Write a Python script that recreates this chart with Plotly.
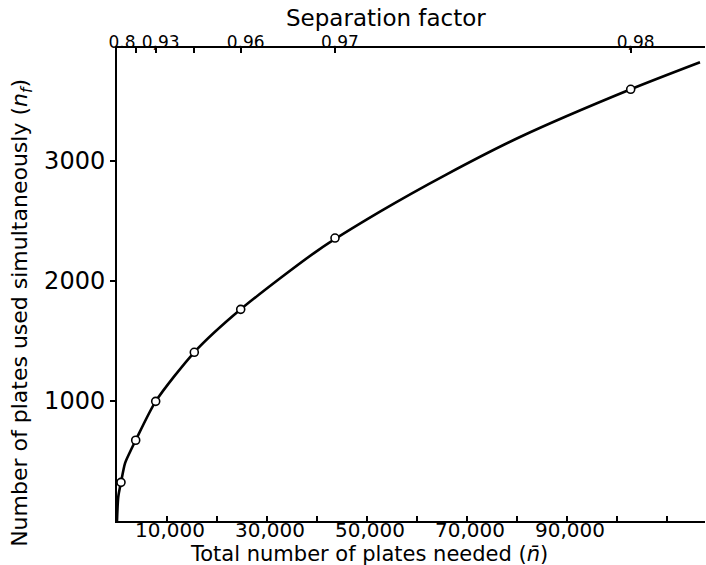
import plotly.graph_objects as go

# Smooth curve drawn through the results (total plates n̄ vs plates used simultaneously n_f)
curve_n = [0, 250, 800, 1600, 2600, 3740, 7740, 15460, 24740, 40260, 52600, 65940, 80600, 102740, 116600]
curve_nf = [0, 200, 322, 481, 575, 673, 997, 1406, 1764, 2258, 2578, 2889, 3200, 3598, 3823]

# Computed points (open circles)
point_n = [800, 3740, 7740, 15460, 24740, 43600, 102740]
point_nf = [322, 673, 997, 1406, 1764, 2358, 3598]

sep_tick_n = [0, 7740, 24740, 43600, 102740]
sep_tick_text = ["0.8", "0,93", "0.96", "0.97", "0,98"]
sep_minor_n = [3740, 15460]

# Bottom axis ticks
x_tick_vals = [10000, 30000, 50000, 70000, 90000]
x_tick_text = ["10,000", "30,000", "50,000", "70,000", "90,000"]
x_minor_vals = [20000, 40000, 60000, 80000, 100000, 110000]

# Left axis ticks
y_tick_vals = [1000, 2000, 3000]
y_tick_text = ["1000", "2000", "3000"]

FONT = "DejaVu Sans"

fig = go.Figure()
fig.add_trace(go.Scatter(
    x=curve_n, y=curve_nf, mode="lines",
    line=dict(color="black", width=2.6, shape="spline", smoothing=0.7),
    hoverinfo="skip", showlegend=False))
fig.add_trace(go.Scatter(
    x=point_n, y=point_nf, mode="markers",
    marker=dict(symbol="circle", size=8, color="white",
                line=dict(color="black", width=1.6)),
    showlegend=False))
# invisible trace bound to the top axis so that it is drawn
fig.add_trace(go.Scatter(
    x=point_n, y=point_nf, mode="markers", xaxis="x2",
    marker=dict(opacity=0), hoverinfo="skip", showlegend=False))

x_range = [0, 117600]
fig.update_layout(
    width=706, height=565,
    margin=dict(l=117, r=1, t=48, b=44),
    paper_bgcolor="white", plot_bgcolor="white",
    font=dict(family=FONT, color="black", size=20),
    showlegend=False,
    xaxis=dict(
        range=x_range, showgrid=False, zeroline=False,
        showline=True, linecolor="black", linewidth=2,
        ticks="inside", ticklen=5, tickwidth=1.5, tickcolor="black",
        tickmode="array", tickvals=x_tick_vals, ticktext=x_tick_text, tickangle=0,
        minor=dict(tickmode="array", tickvals=x_minor_vals, ticks="inside",
                   ticklen=5, tickwidth=1.5, tickcolor="black", showgrid=False),
        ticklabelstandoff=-10, ticklabelshift=3,
        tickfont=dict(family=FONT, size=20)),
    xaxis2=dict(
        range=x_range, overlaying="x", side="top", anchor="y",
        showgrid=False, zeroline=False,
        showline=True, linecolor="black", linewidth=2,
        ticks="inside", ticklen=5, tickwidth=1.5, tickcolor="black",
        tickmode="array", tickvals=sep_tick_n, ticktext=sep_tick_text, tickangle=0,
        minor=dict(tickmode="array", tickvals=sep_minor_n, ticks="inside",
                   ticklen=5, tickwidth=1.5, tickcolor="black", showgrid=False),
        ticklabelstandoff=-9, ticklabelshift=5,
        tickfont=dict(family=FONT, size=17)),
    yaxis=dict(
        range=[0, 3942], showgrid=False, zeroline=False,
        showline=True, linecolor="black", linewidth=2,
        ticks="outside", ticklen=5, tickwidth=1.5, tickcolor="black",
        tickvals=y_tick_vals, ticktext=y_tick_text,
        tickfont=dict(family=FONT, size=24)),
    annotations=[
        dict(text="Total number of plates needed (<i>n̄</i>)",
             xref="paper", yref="paper", x=0.429, y=-0.07,
             xanchor="center", yanchor="middle", showarrow=False,
             font=dict(family=FONT, size=21)),
        dict(text="Number of plates used simultaneously (<i>n<sub>f</sub></i>)",
             xref="paper", yref="paper", x=-0.1616, y=0.44,
             xanchor="center", yanchor="middle", showarrow=False,
             textangle=-90, font=dict(family=FONT, size=22)),
        dict(text="Separation factor",
             xref="paper", yref="paper", x=0.457, y=1.0634,
             xanchor="center", yanchor="middle", showarrow=False,
             font=dict(family=FONT, size=23)),
    ],
)

fig.write_html("out.html")
